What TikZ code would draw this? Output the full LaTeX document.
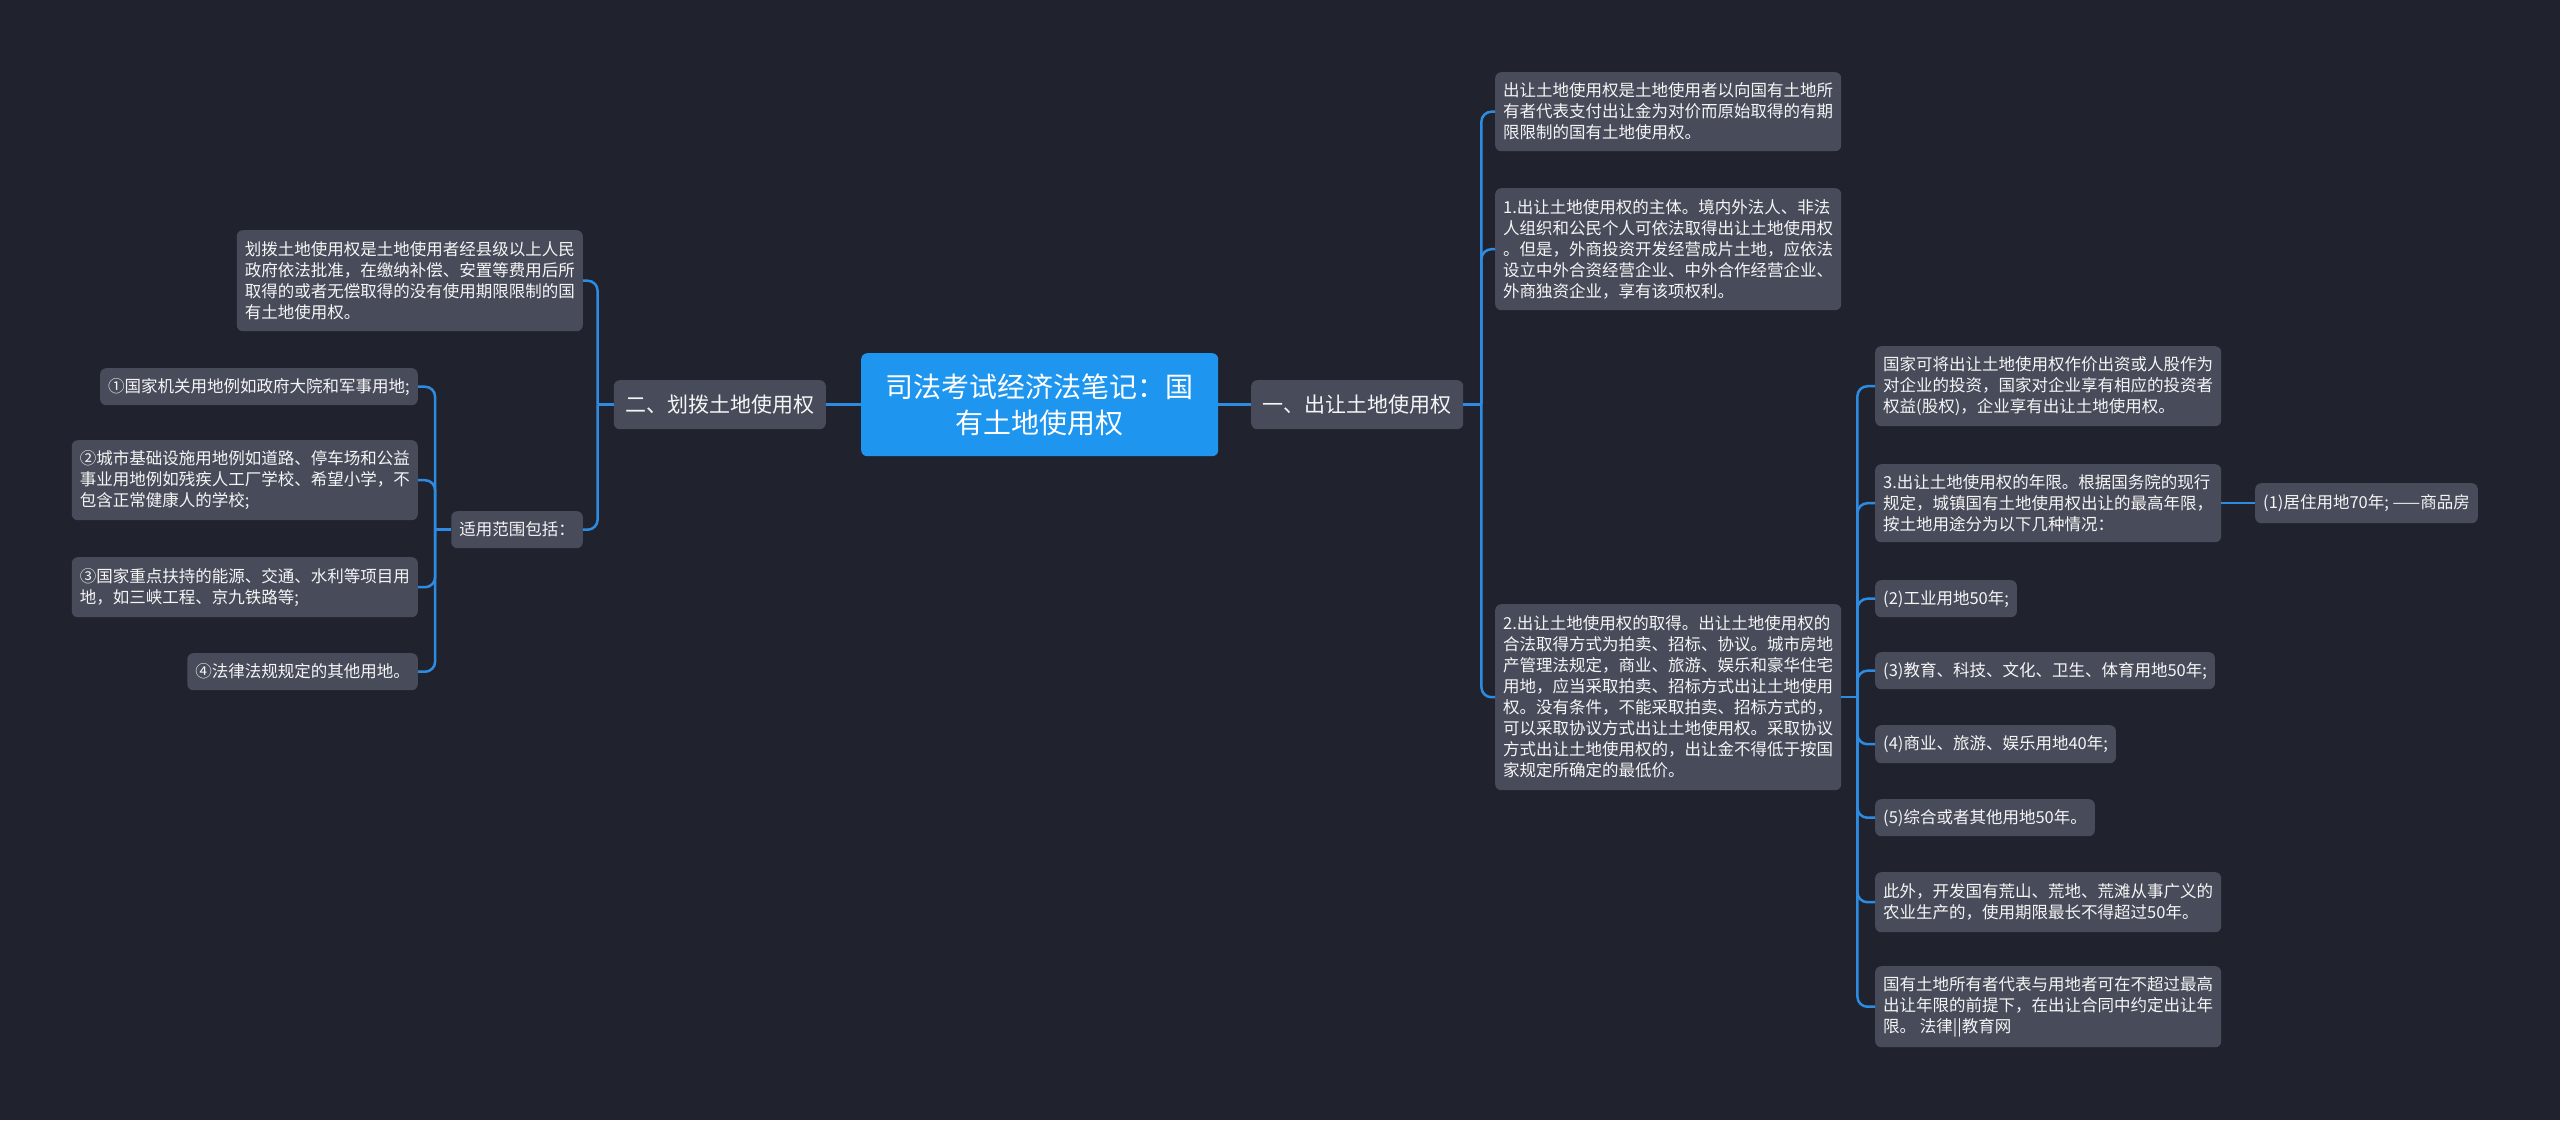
\documentclass[tikz,border=0pt]{standalone}
\usepackage{fontspec}
\setmainfont{Noto Sans CJK SC}
\definecolor{bg}{RGB}{32,35,46}
\definecolor{nodebg}{RGB}{72,76,90}
\definecolor{lineblue}{RGB}{45,140,225}
\definecolor{rootblue}{RGB}{30,150,240}
\definecolor{txt}{RGB}{245,245,245}
\tikzset{
  box/.style={fill=nodebg, rounded corners=6pt, text=txt, font=\fontsize{16.5}{21}\selectfont, align=left, inner xsep=8pt, inner ysep=2pt},
  lone/.style={box, font=\fontsize{21}{26}\selectfont, minimum height=49pt, inner xsep=11.5pt},
  rootbox/.style={fill=rootblue, rounded corners=6pt, text=white, font=\fontsize{28}{36}\selectfont, align=center, minimum width=357pt, minimum height=103pt},
  conn/.style={draw=lineblue, line width=2.5pt, rounded corners=10pt},
  stub/.style={draw=lineblue, line width=2.5pt}
}
\begin{document}
\begin{tikzpicture}[x=1pt,y=1pt]
\fill[bg] (0,0) rectangle (2560,-1120);
\useasboundingbox (0,0) rectangle (2560,-1120);

% root and level 1
\node[rootbox, anchor=north west] (root) at (861,-353) {司法考试经济法笔记：国\\有土地使用权};
\node[lone, anchor=north west] (one) at (1251,-380) {一、出让土地使用权};
\node[lone, anchor=north east] (two) at (826,-380) {二、划拨土地使用权};

% right side level 2
\node[box, anchor=north west, minimum height=79pt] (A) at (1495,-72) {出让土地使用权是土地使用者以向国有土地所\\有者代表支付出让金为对价而原始取得的有期\\限限制的国有土地使用权。};
\node[box, anchor=north west, minimum height=122pt] (B) at (1495,-188) {1.出让土地使用权的主体。境内外法人、非法\\人组织和公民个人可依法取得出让土地使用权\\。但是，外商投资开发经营成片土地，应依法\\设立中外合资经营企业、中外合作经营企业、\\外商独资企业，享有该项权利。};
\node[box, anchor=north west, minimum height=186pt] (C) at (1495,-604) {2.出让土地使用权的取得。出让土地使用权的\\合法取得方式为拍卖、招标、协议。城市房地\\产管理法规定，商业、旅游、娱乐和豪华住宅\\用地，应当采取拍卖、招标方式出让土地使用\\权。没有条件，不能采取拍卖、招标方式的，\\可以采取协议方式出让土地使用权。采取协议\\方式出让土地使用权的，出让金不得低于按国\\家规定所确定的最低价。};

% right side level 3
\node[box, anchor=north west, minimum height=80pt] (D) at (1875,-346) {国家可将出让土地使用权作价出资或人股作为\\对企业的投资，国家对企业享有相应的投资者\\权益(股权)，企业享有出让土地使用权。};
\node[box, anchor=north west, minimum height=78pt] (E) at (1875,-464) {3.出让土地使用权的年限。根据国务院的现行\\规定，城镇国有土地使用权出让的最高年限，\\按土地用途分为以下几种情况：};
\node[box, anchor=north west, minimum height=40pt] (F) at (2255,-483) {(1)居住用地70年; ——商品房};
\node[box, anchor=north west, minimum height=37pt] (G) at (1875,-580) {(2)工业用地50年;};
\node[box, anchor=north west, minimum height=37pt] (H) at (1875,-652) {(3)教育、科技、文化、卫生、体育用地50年;};
\node[box, anchor=north west, minimum height=38pt] (I) at (1875,-725) {(4)商业、旅游、娱乐用地40年;};
\node[box, anchor=north west, minimum height=37pt] (J) at (1875,-799) {(5)综合或者其他用地50年。};
\node[box, anchor=north west, minimum height=60pt] (K) at (1875,-872) {此外，开发国有荒山、荒地、荒滩从事广义的\\农业生产的，使用期限最长不得超过50年。};
\node[box, anchor=north west, minimum height=81pt] (L) at (1875,-966) {国有土地所有者代表与用地者可在不超过最高\\出让年限的前提下，在出让合同中约定出让年\\限。 法律||教育网};

% left side
\node[box, anchor=north east, minimum height=101pt] (M) at (583,-230) {划拨土地使用权是土地使用者经县级以上人民\\政府依法批准，在缴纳补偿、安置等费用后所\\取得的或者无偿取得的没有使用期限限制的国\\有土地使用权。};
\node[box, anchor=north east, minimum height=37pt] (N) at (583,-511) {适用范围包括：};
\node[box, anchor=north east, minimum height=37pt] (O) at (418,-368) {①国家机关用地例如政府大院和军事用地;};
\node[box, anchor=north east, minimum height=80pt] (P) at (418,-440) {②城市基础设施用地例如道路、停车场和公益\\事业用地例如残疾人工厂学校、希望小学，不\\包含正常健康人的学校;};
\node[box, anchor=north east, minimum height=60pt] (Q) at (418,-557) {③国家重点扶持的能源、交通、水利等项目用\\地，如三峡工程、京九铁路等;};
\node[box, anchor=north east, minimum height=37pt] (R) at (418,-653) {④法律法规规定的其他用地。};

% bus points
\coordinate (oneb) at ([xshift=18pt]one.east);
\coordinate (Cb) at ([xshift=16pt]C.east);
\coordinate (twob) at ([xshift=-16pt]two.west);
\coordinate (Nb) at ([xshift=-16pt]N.west);

% connectors
\draw[stub] (root.east) -- (one.west);
\draw[stub] (root.west) -- (two.east);
\draw[stub] (E.east) -- (F.west);
\draw[stub] (one.east) -- (oneb);
\draw[stub] (C.east) -- (Cb);
\draw[stub] (two.west) -- (twob);
\draw[stub] (N.west) -- (Nb);
\foreach \c in {A,B,C} \draw[conn] (oneb) |- (\c.west);
\foreach \c in {D,E,G,H,I,J,K,L} \draw[conn] (Cb) |- (\c.west);
\foreach \c in {M,N} \draw[conn] (twob) |- (\c.east);
\foreach \c in {O,P,Q,R} \draw[conn] (Nb) |- (\c.east);
\end{tikzpicture}
\end{document}
